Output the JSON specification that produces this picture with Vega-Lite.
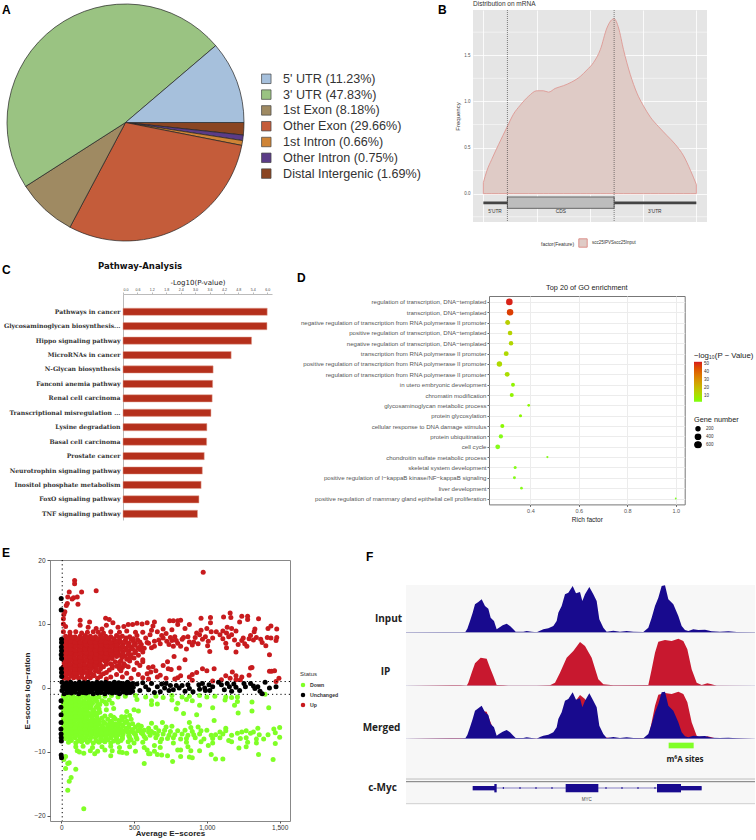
{"$schema":"https://vega.github.io/schema/vega-lite/v6.json","padding":0,"background":"white","bounds":"flush","spacing":0,
"resolve":{"scale":{"color":"independent","size":"independent"},"legend":{"color":"independent","size":"independent"}},
"config":{"font":"Liberation Sans","concat":{"spacing":0},"view":{"stroke":null},"title":{"color":"#111"}},
"datasets":{
"up":[{"a":975,"e":18.1},{"a":240,"e":15.2},{"a":92,"e":16.8},{"a":92,"e":16.3},{"a":55,"e":15},{"a":140,"e":15},{"a":45,"e":14.2},{"a":85,"e":14.1},{"a":110,"e":14.2},{"a":75,"e":13.9},{"a":42,"e":13.2},{"a":115,"e":13.1},{"a":35,"e":12.9},{"a":25,"e":11.9},{"a":18,"e":11.5},{"a":15,"e":10.8},{"a":15,"e":10},{"a":30,"e":9.6},{"a":15,"e":8.8},{"a":130,"e":10.6},{"a":130,"e":9.8},{"a":195,"e":10.3},{"a":185,"e":9.5},{"a":240,"e":9.3},{"a":280,"e":9.2},{"a":305,"e":10.9},{"a":330,"e":10.7},{"a":355,"e":10.2},{"a":310,"e":9.8},{"a":390,"e":9.5},{"a":430,"e":9.6},{"a":460,"e":9.9},{"a":490,"e":9.9},{"a":520,"e":10.1},{"a":555,"e":10},{"a":590,"e":10.2},{"a":640,"e":10.3},{"a":630,"e":9.7},{"a":745,"e":10.5},{"a":770,"e":10.5},{"a":800,"e":10.5},{"a":820,"e":10.6},{"a":880,"e":9.9},{"a":800,"e":9.9},{"a":960,"e":10.9},{"a":1025,"e":11},{"a":1025,"e":10.2},{"a":1000,"e":9.3},{"a":960,"e":9},{"a":1030,"e":8.8},{"a":1115,"e":11.1},{"a":1160,"e":11.7},{"a":1165,"e":11},{"a":1140,"e":9.5},{"a":1170,"e":9.3},{"a":1225,"e":10.3},{"a":1240,"e":11.2},{"a":1280,"e":11.2},{"a":1280,"e":10.7},{"a":1355,"e":10.8},{"a":1330,"e":9.2},{"a":1325,"e":8.8},{"a":1300,"e":8.2},{"a":1420,"e":9.3},{"a":1440,"e":9.7},{"a":1480,"e":9.2},{"a":1440,"e":7.8},{"a":1480,"e":7.9},{"a":1415,"e":7.9},{"a":1475,"e":7.4},{"a":1405,"e":6.6},{"a":1430,"e":5.2},{"a":1430,"e":2.6},{"a":1445,"e":2.6},{"a":1465,"e":2.7},{"a":1475,"e":1},{"a":1495,"e":1.5},{"a":1275,"e":6.5},{"a":1200,"e":5.6},{"a":1135,"e":6.3},{"a":1020,"e":5.7},{"a":1005,"e":6.6},{"a":850,"e":4.4},{"a":775,"e":4.9},{"a":730,"e":4.1},{"a":735,"e":3},{"a":755,"e":2.9},{"a":810,"e":3.1},{"a":700,"e":3.5},{"a":630,"e":3.3},{"a":615,"e":2.5},{"a":1050,"e":3},{"a":1000,"e":2.7},{"a":930,"e":2.4},{"a":900,"e":2.1},{"a":880,"e":1.7},{"a":820,"e":1.9},{"a":800,"e":1.6},{"a":780,"e":1.4},{"a":900,"e":1.2},{"a":1040,"e":1.1},{"a":1130,"e":1.9},{"a":1160,"e":1.5},{"a":1175,"e":2.5},{"a":1200,"e":1.3},{"a":1230,"e":1.3},{"a":1240,"e":1.7},{"a":1290,"e":2},{"a":1300,"e":3.1},{"a":1310,"e":3.2},{"a":1200,"e":1.9},{"a":970,"e":3},{"a":1100,"e":1.3},
{"a":610,"e":8.3},{"a":640,"e":7.3},{"a":660,"e":8.8},{"a":680,"e":6.9},{"a":700,"e":7.8},{"a":720,"e":8.5},{"a":740,"e":6.8},{"a":760,"e":7.4},{"a":780,"e":8},{"a":800,"e":7},{"a":820,"e":6.5},{"a":840,"e":7.9},{"a":860,"e":6.1},{"a":880,"e":7.2},{"a":900,"e":6.7},{"a":920,"e":7.9},{"a":940,"e":6.9},{"a":970,"e":7.6},{"a":990,"e":8},{"a":1010,"e":7.3},{"a":1040,"e":7.8},{"a":1090,"e":8.3},{"a":1110,"e":7.7},{"a":1130,"e":7},{"a":1150,"e":8},{"a":1170,"e":8.3},{"a":1190,"e":7.5},{"a":1215,"e":6.8},{"a":1240,"e":7.4},{"a":1260,"e":6.9},{"a":1290,"e":7.7},{"a":1320,"e":7.5},{"a":1340,"e":7.9},{"a":1370,"e":7.6},{"a":1380,"e":7.1},{"a":1110,"e":8.9},{"a":1065,"e":8.8},{"a":1135,"e":8.6},{"a":1200,"e":8.9},{"a":1250,"e":7.8},{"a":670,"e":7.5},{"a":725,"e":7.3},{"a":750,"e":7.9},{"a":790,"e":7.4},{"a":870,"e":8},{"a":910,"e":7.2},{"a":950,"e":8.3},{"a":830,"e":7.6},{"a":770,"e":6.5},{"a":640,"e":6.5},{"a":600,"e":7},{"a":580,"e":7.8},{"a":560,"e":8.7},{"a":700,"e":9.2},{"a":760,"e":9.1},{"a":850,"e":9.3},{"a":930,"e":8.6},{"a":620,"e":9},{"a":690,"e":8.2},
{"a":20,"e":1.5},{"a":50,"e":1.4},{"a":85,"e":1.6},{"a":120,"e":1.5},{"a":160,"e":1.4},{"a":200,"e":1.6},{"a":250,"e":1.5},{"a":310,"e":1.4},{"a":420,"e":1.7},{"a":480,"e":1.5},{"a":560,"e":1.6},{"a":600,"e":1.4},{"a":660,"e":1.7},{"a":720,"e":1.5},
{"a":15,"e":2.1},{"a":45,"e":2.2},{"a":75,"e":2},{"a":110,"e":2.1},{"a":145,"e":2.2},{"a":185,"e":2.1},{"a":225,"e":2},{"a":290,"e":2.2},{"a":380,"e":2.1},{"a":450,"e":2.3},{"a":530,"e":2.1},{"a":590,"e":2.2},{"a":680,"e":2},
{"a":20,"e":2.7},{"a":50,"e":2.8},{"a":85,"e":2.6},{"a":115,"e":2.7},{"a":150,"e":2.8},{"a":190,"e":2.7},{"a":235,"e":2.6},{"a":330,"e":2.8},{"a":410,"e":2.7},{"a":500,"e":2.9},{"a":650,"e":2.7},
{"a":15,"e":3.3},{"a":45,"e":3.4},{"a":80,"e":3.2},{"a":110,"e":3.3},{"a":145,"e":3.4},{"a":180,"e":3.3},{"a":215,"e":3.2},{"a":250,"e":3.5},{"a":290,"e":3.3},{"a":380,"e":3.4},{"a":420,"e":3.2},{"a":460,"e":3.3},{"a":540,"e":3.5},{"a":600,"e":3.2},
{"a":20,"e":3.9},{"a":50,"e":4},{"a":85,"e":3.8},{"a":120,"e":3.9},{"a":155,"e":4},{"a":190,"e":3.9},{"a":225,"e":3.8},{"a":260,"e":4},{"a":310,"e":3.9},{"a":340,"e":3.8},{"a":400,"e":4},{"a":430,"e":3.8},{"a":520,"e":3.9},{"a":560,"e":4.1},
{"a":15,"e":4.5},{"a":45,"e":4.6},{"a":80,"e":4.4},{"a":110,"e":4.5},{"a":145,"e":4.6},{"a":180,"e":4.5},{"a":215,"e":4.4},{"a":250,"e":4.6},{"a":285,"e":4.5},{"a":320,"e":4.4},{"a":350,"e":4.6},{"a":450,"e":4.5},{"a":500,"e":4.7},{"a":560,"e":4.4},
{"a":20,"e":5.1},{"a":50,"e":5.2},{"a":85,"e":5},{"a":120,"e":5.1},{"a":155,"e":5.2},{"a":190,"e":5.1},{"a":225,"e":5},{"a":260,"e":5.2},{"a":295,"e":5.1},{"a":330,"e":5},{"a":365,"e":5.2},{"a":400,"e":5.1},{"a":440,"e":5},{"a":480,"e":5.2},{"a":530,"e":5.1},
{"a":15,"e":5.7},{"a":45,"e":5.8},{"a":80,"e":5.6},{"a":110,"e":5.7},{"a":145,"e":5.8},{"a":180,"e":5.7},{"a":215,"e":5.6},{"a":250,"e":5.8},{"a":285,"e":5.7},{"a":320,"e":5.6},{"a":355,"e":5.8},{"a":390,"e":5.7},{"a":425,"e":5.6},{"a":465,"e":5.8},{"a":510,"e":5.7},{"a":560,"e":5.6},
{"a":20,"e":6.3},{"a":50,"e":6.4},{"a":85,"e":6.2},{"a":120,"e":6.3},{"a":155,"e":6.4},{"a":190,"e":6.3},{"a":225,"e":6.2},{"a":260,"e":6.4},{"a":295,"e":6.3},{"a":330,"e":6.2},{"a":365,"e":6.4},{"a":400,"e":6.3},{"a":440,"e":6.2},{"a":480,"e":6.4},{"a":525,"e":6.3},{"a":570,"e":6.2},{"a":620,"e":6.3},
{"a":15,"e":6.9},{"a":45,"e":7},{"a":80,"e":6.8},{"a":110,"e":6.9},{"a":145,"e":7},{"a":180,"e":6.9},{"a":215,"e":6.8},{"a":250,"e":7},{"a":285,"e":6.9},{"a":320,"e":6.8},{"a":355,"e":7},{"a":390,"e":6.9},{"a":425,"e":6.8},{"a":465,"e":7},{"a":510,"e":6.9},{"a":550,"e":6.8},{"a":590,"e":7.1},
{"a":20,"e":7.5},{"a":50,"e":7.6},{"a":85,"e":7.4},{"a":120,"e":7.5},{"a":155,"e":7.6},{"a":190,"e":7.5},{"a":225,"e":7.4},{"a":260,"e":7.6},{"a":295,"e":7.5},{"a":330,"e":7.4},{"a":365,"e":7.6},{"a":400,"e":7.5},{"a":440,"e":7.4},{"a":480,"e":7.6},{"a":525,"e":7.5},
{"a":30,"e":8.1},{"a":60,"e":8.2},{"a":95,"e":8},{"a":130,"e":8.1},{"a":165,"e":8.2},{"a":200,"e":8.1},{"a":235,"e":8},{"a":270,"e":8.2},{"a":305,"e":8.1},{"a":340,"e":8},{"a":380,"e":8.2},{"a":420,"e":8.1},{"a":470,"e":8},{"a":520,"e":8.2},
{"a":60,"e":8.7},{"a":100,"e":8.8},{"a":140,"e":8.6},{"a":180,"e":8.7},{"a":220,"e":8.8},{"a":255,"e":8.7},{"a":290,"e":8.6},{"a":340,"e":8.8},{"a":400,"e":8.7},{"a":450,"e":8.9},{"a":510,"e":8.7},
{"a":30,"e":1.8},{"a":65,"e":1.9},{"a":100,"e":1.8},{"a":140,"e":1.7},{"a":180,"e":1.8},{"a":220,"e":1.9},{"a":270,"e":1.8},{"a":340,"e":1.7},
{"a":30,"e":2.4},{"a":60,"e":2.5},{"a":95,"e":2.3},{"a":130,"e":2.4},{"a":170,"e":2.4},{"a":205,"e":2.3},{"a":260,"e":2.5},{"a":310,"e":2.4},
{"a":30,"e":3},{"a":65,"e":3.1},{"a":95,"e":2.9},{"a":130,"e":3},{"a":165,"e":3.1},{"a":205,"e":3},{"a":240,"e":2.9},{"a":270,"e":3},{"a":350,"e":3.1},{"a":400,"e":3},
{"a":30,"e":3.6},{"a":60,"e":3.7},{"a":95,"e":3.5},{"a":130,"e":3.6},{"a":160,"e":3.7},{"a":200,"e":3.6},{"a":235,"e":3.5},{"a":270,"e":3.6},{"a":310,"e":3.7},{"a":350,"e":3.5},{"a":400,"e":3.6},{"a":440,"e":3.5},
{"a":30,"e":4.2},{"a":65,"e":4.3},{"a":100,"e":4.1},{"a":130,"e":4.2},{"a":170,"e":4.3},{"a":205,"e":4.2},{"a":240,"e":4.1},{"a":270,"e":4.3},{"a":300,"e":4.2},{"a":370,"e":4.1},{"a":410,"e":4.3},{"a":470,"e":4.2},
{"a":30,"e":4.8},{"a":60,"e":4.9},{"a":95,"e":4.7},{"a":130,"e":4.8},{"a":165,"e":4.9},{"a":200,"e":4.8},{"a":235,"e":4.7},{"a":270,"e":4.9},{"a":305,"e":4.8},{"a":340,"e":4.7},{"a":380,"e":4.9},{"a":420,"e":4.8},{"a":470,"e":4.7},
{"a":30,"e":5.4},{"a":65,"e":5.5},{"a":100,"e":5.3},{"a":130,"e":5.4},{"a":170,"e":5.5},{"a":205,"e":5.4},{"a":240,"e":5.3},{"a":275,"e":5.5},{"a":310,"e":5.4},{"a":345,"e":5.3},{"a":380,"e":5.5},{"a":420,"e":5.4},{"a":460,"e":5.3},{"a":505,"e":5.5},
{"a":30,"e":6},{"a":65,"e":6.1},{"a":95,"e":5.9},{"a":130,"e":6},{"a":165,"e":6.1},{"a":200,"e":6},{"a":235,"e":5.9},{"a":270,"e":6.1},{"a":305,"e":6},{"a":340,"e":5.9},{"a":375,"e":6.1},{"a":410,"e":6},{"a":450,"e":5.9},{"a":490,"e":6.1},{"a":540,"e":6},
{"a":30,"e":6.6},{"a":65,"e":6.7},{"a":100,"e":6.5},{"a":130,"e":6.6},{"a":170,"e":6.7},{"a":205,"e":6.6},{"a":240,"e":6.5},{"a":275,"e":6.7},{"a":310,"e":6.6},{"a":345,"e":6.5},{"a":380,"e":6.7},{"a":420,"e":6.6},{"a":460,"e":6.5},{"a":500,"e":6.7},{"a":545,"e":6.6},
{"a":30,"e":7.2},{"a":65,"e":7.3},{"a":95,"e":7.1},{"a":130,"e":7.2},{"a":165,"e":7.3},{"a":200,"e":7.2},{"a":235,"e":7.1},{"a":270,"e":7.3},{"a":305,"e":7.2},{"a":340,"e":7.1},{"a":375,"e":7.3},{"a":410,"e":7.2},{"a":450,"e":7.1},{"a":495,"e":7.3},{"a":540,"e":7.2},
{"a":40,"e":7.8},{"a":75,"e":7.9},{"a":110,"e":7.7},{"a":145,"e":7.8},{"a":180,"e":7.9},{"a":215,"e":7.8},{"a":250,"e":7.7},{"a":285,"e":7.9},{"a":320,"e":7.8},{"a":360,"e":7.7},{"a":400,"e":7.9},{"a":445,"e":7.8},{"a":495,"e":7.7}],
"down":[{"a":155,"e":-18.9},{"a":45,"e":-16},{"a":55,"e":-14.6},{"a":68,"e":-14},{"a":100,"e":-12.7},{"a":30,"e":-12.6},{"a":18,"e":-11.2},{"a":55,"e":-11.7},{"a":30,"e":-10.7},{"a":45,"e":-11.8},{"a":570,"e":-11.8},{"a":765,"e":-11.5},{"a":1455,"e":-11.2},{"a":1060,"e":-11.1},{"a":1110,"e":-11.1},{"a":880,"e":-10.8},{"a":900,"e":-10.9},{"a":1355,"e":-10.4},{"a":820,"e":-10.7},{"a":690,"e":-10.5},{"a":730,"e":-10.6},{"a":600,"e":-10.3},
{"a":15,"e":-1.3},{"a":45,"e":-1.2},{"a":80,"e":-1.3},{"a":115,"e":-1.4},{"a":150,"e":-1.2},{"a":185,"e":-1.3},{"a":220,"e":-1.2},{"a":260,"e":-1.4},{"a":300,"e":-1.3},{"a":345,"e":-1.2},{"a":390,"e":-1.4},{"a":440,"e":-1.3},{"a":510,"e":-1.2},{"a":580,"e":-1.4},{"a":650,"e":-1.3},{"a":700,"e":-1.5},{"a":760,"e":-1.2},{"a":830,"e":-1.4},{"a":880,"e":-1.3},{"a":950,"e":-1.2},{"a":1000,"e":-1.4},{"a":1055,"e":-1.3},{"a":1130,"e":-1.4},{"a":1170,"e":-1.5},{"a":1210,"e":-1.4},{"a":1400,"e":-1},
{"a":20,"e":-1.9},{"a":50,"e":-2},{"a":85,"e":-1.8},{"a":120,"e":-1.9},{"a":155,"e":-2},{"a":190,"e":-1.9},{"a":230,"e":-1.8},{"a":280,"e":-2},{"a":330,"e":-1.9},{"a":520,"e":-1.8},{"a":620,"e":-2},{"a":760,"e":-1.9},{"a":860,"e":-1.8},{"a":900,"e":-2},{"a":1125,"e":-1.9},{"a":1210,"e":-2.1},
{"a":15,"e":-2.5},{"a":45,"e":-2.6},{"a":80,"e":-2.4},{"a":110,"e":-2.5},{"a":145,"e":-2.6},{"a":180,"e":-2.5},{"a":215,"e":-2.4},{"a":265,"e":-2.6},{"a":310,"e":-2.5},{"a":350,"e":-2.4},{"a":620,"e":-2.6},{"a":660,"e":-2.5},{"a":800,"e":-2.4},{"a":950,"e":-2.7},{"a":1190,"e":-2.7},
{"a":20,"e":-3.1},{"a":50,"e":-3.2},{"a":85,"e":-3},{"a":120,"e":-3.1},{"a":155,"e":-3.2},{"a":190,"e":-3.1},{"a":240,"e":-3},{"a":360,"e":-3.2},{"a":500,"e":-3.4},{"a":790,"e":-3.3},{"a":1040,"e":-3.1},{"a":1310,"e":-2.2},{"a":1425,"e":-3.1},
{"a":15,"e":-3.7},{"a":45,"e":-3.8},{"a":80,"e":-3.6},{"a":110,"e":-3.7},{"a":145,"e":-3.8},{"a":180,"e":-3.7},{"a":225,"e":-3.6},{"a":265,"e":-3.8},{"a":450,"e":-3.7},{"a":530,"e":-3.6},{"a":840,"e":-4},{"a":1310,"e":-3.6},{"a":1215,"e":-3.9},
{"a":20,"e":-4.3},{"a":50,"e":-4.4},{"a":85,"e":-4.2},{"a":120,"e":-4.3},{"a":155,"e":-4.4},{"a":190,"e":-4.3},{"a":230,"e":-4.2},{"a":300,"e":-4.4},{"a":340,"e":-4.3},{"a":415,"e":-4.5},{"a":470,"e":-4.3},{"a":930,"e":-4.2},
{"a":15,"e":-4.9},{"a":45,"e":-5},{"a":80,"e":-4.8},{"a":110,"e":-4.9},{"a":145,"e":-5},{"a":180,"e":-4.9},{"a":215,"e":-4.8},{"a":260,"e":-5},{"a":320,"e":-4.9},{"a":370,"e":-4.8},{"a":420,"e":-5},{"a":480,"e":-4.9},{"a":1050,"e":-5.1},
{"a":20,"e":-5.5},{"a":50,"e":-5.6},{"a":85,"e":-5.4},{"a":120,"e":-5.5},{"a":155,"e":-5.6},{"a":190,"e":-5.5},{"a":225,"e":-5.4},{"a":260,"e":-5.6},{"a":300,"e":-5.5},{"a":335,"e":-5.4},{"a":370,"e":-5.6},{"a":400,"e":-5.5},{"a":440,"e":-5.4},{"a":490,"e":-5.6},{"a":620,"e":-5.5},{"a":695,"e":-5.4},{"a":880,"e":-5.4},
{"a":15,"e":-6.1},{"a":45,"e":-6.2},{"a":80,"e":-6},{"a":110,"e":-6.1},{"a":145,"e":-6.2},{"a":180,"e":-6.1},{"a":215,"e":-6},{"a":250,"e":-6.2},{"a":285,"e":-6.1},{"a":320,"e":-6},{"a":355,"e":-6.2},{"a":390,"e":-6.1},{"a":425,"e":-6},{"a":465,"e":-6.2},{"a":510,"e":-6.1},{"a":550,"e":-6},{"a":650,"e":-6.2},{"a":720,"e":-6.1},{"a":760,"e":-6},{"a":890,"e":-6.2},{"a":940,"e":-6.1},{"a":1130,"e":-6.3},{"a":1350,"e":-6.3},{"a":1460,"e":-6.4},{"a":1500,"e":-6.2},
{"a":20,"e":-6.7},{"a":50,"e":-6.8},{"a":85,"e":-6.6},{"a":120,"e":-6.7},{"a":155,"e":-6.8},{"a":190,"e":-6.7},{"a":225,"e":-6.6},{"a":260,"e":-6.8},{"a":295,"e":-6.7},{"a":330,"e":-6.6},{"a":365,"e":-6.8},{"a":400,"e":-6.7},{"a":440,"e":-6.6},{"a":480,"e":-6.8},{"a":525,"e":-6.7},{"a":570,"e":-6.6},{"a":620,"e":-6.8},{"a":670,"e":-6.7},{"a":710,"e":-6.6},{"a":750,"e":-6.8},{"a":800,"e":-6.7},{"a":850,"e":-6.6},{"a":900,"e":-6.8},{"a":960,"e":-6.7},{"a":1000,"e":-6.6},{"a":1090,"e":-6.9},{"a":1130,"e":-6.7},{"a":1270,"e":-6.7},{"a":1320,"e":-6.9},{"a":1470,"e":-7},
{"a":15,"e":-7.3},{"a":45,"e":-7.4},{"a":80,"e":-7.2},{"a":110,"e":-7.3},{"a":145,"e":-7.4},{"a":180,"e":-7.3},{"a":215,"e":-7.2},{"a":250,"e":-7.4},{"a":285,"e":-7.3},{"a":320,"e":-7.2},{"a":355,"e":-7.4},{"a":390,"e":-7.3},{"a":425,"e":-7.2},{"a":465,"e":-7.4},{"a":510,"e":-7.3},{"a":560,"e":-7.2},{"a":610,"e":-7.4},{"a":660,"e":-7.3},{"a":700,"e":-7.2},{"a":740,"e":-7.4},{"a":780,"e":-7.3},{"a":830,"e":-7.2},{"a":870,"e":-7.4},{"a":910,"e":-7.3},{"a":950,"e":-7.2},{"a":1030,"e":-7.4},{"a":1060,"e":-7.3},{"a":1110,"e":-7.2},{"a":1170,"e":-7.4},{"a":1210,"e":-7.1},{"a":1240,"e":-6.9},{"a":1300,"e":-7.1},{"a":1360,"e":-7.3},{"a":1420,"e":-7.3},
{"a":30,"e":-7.9},{"a":60,"e":-8},{"a":95,"e":-7.8},{"a":130,"e":-7.9},{"a":165,"e":-8},{"a":200,"e":-7.9},{"a":235,"e":-7.8},{"a":270,"e":-8},{"a":305,"e":-7.9},{"a":340,"e":-7.8},{"a":380,"e":-8},{"a":420,"e":-7.9},{"a":470,"e":-7.8},{"a":520,"e":-8},{"a":580,"e":-7.9},{"a":650,"e":-7.8},{"a":690,"e":-8},{"a":730,"e":-7.9},{"a":770,"e":-7.8},{"a":820,"e":-8},{"a":860,"e":-7.9},{"a":920,"e":-7.8},{"a":980,"e":-8},{"a":1040,"e":-7.9},{"a":1090,"e":-7.8},{"a":1150,"e":-8.2},{"a":1230,"e":-7.9},{"a":1270,"e":-7.8},{"a":1340,"e":-8},{"a":1390,"e":-8},{"a":1500,"e":-7.7},
{"a":50,"e":-8.5},{"a":100,"e":-8.6},{"a":140,"e":-8.4},{"a":180,"e":-8.5},{"a":220,"e":-8.6},{"a":260,"e":-8.5},{"a":300,"e":-8.4},{"a":340,"e":-8.6},{"a":390,"e":-8.5},{"a":460,"e":-8.4},{"a":500,"e":-8.6},{"a":560,"e":-8.5},{"a":680,"e":-8.4},{"a":770,"e":-8.6},{"a":860,"e":-8.5},{"a":960,"e":-8.4},{"a":1040,"e":-8.6},{"a":1170,"e":-8.4},{"a":1280,"e":-8.5},{"a":1340,"e":-8.6},{"a":1470,"e":-8.7},
{"a":100,"e":-9.2},{"a":150,"e":-9.1},{"a":215,"e":-9.3},{"a":280,"e":-9.2},{"a":340,"e":-9.1},{"a":400,"e":-9.3},{"a":470,"e":-9.2},{"a":570,"e":-9.3},{"a":640,"e":-9},{"a":680,"e":-9.3},{"a":870,"e":-9.2},{"a":1010,"e":-9},{"a":1220,"e":-9.4},{"a":1270,"e":-9.2},
{"a":110,"e":-9.8},{"a":125,"e":-10},{"a":200,"e":-9.8},{"a":250,"e":-9.9},{"a":300,"e":-9.7},{"a":350,"e":-9.8},{"a":400,"e":-10},{"a":510,"e":-9.9},{"a":590,"e":-9.7},{"a":640,"e":-9.9},{"a":820,"e":-9.7},{"a":890,"e":-9.8},{"a":950,"e":-9.8},
{"a":155,"e":-10.2},{"a":230,"e":-10.3},{"a":340,"e":-10.6},{"a":420,"e":-10.1},{"a":450,"e":-10.2},{"a":610,"e":-10.3},{"a":660,"e":-10.4},{"a":800,"e":-9.7},{"a":1030,"e":-10.4},
{"a":30,"e":-1.6},{"a":65,"e":-1.7},{"a":100,"e":-1.6},{"a":135,"e":-1.5},{"a":170,"e":-1.6},{"a":205,"e":-1.7},{"a":240,"e":-1.6},
{"a":30,"e":-2.2},{"a":65,"e":-2.3},{"a":100,"e":-2.1},{"a":130,"e":-2.2},{"a":165,"e":-2.3},{"a":200,"e":-2.2},{"a":245,"e":-2.1},{"a":300,"e":-2.2},
{"a":30,"e":-2.8},{"a":65,"e":-2.9},{"a":100,"e":-2.7},{"a":130,"e":-2.8},{"a":170,"e":-2.9},{"a":205,"e":-2.8},{"a":250,"e":-2.7},
{"a":30,"e":-3.4},{"a":65,"e":-3.5},{"a":100,"e":-3.3},{"a":135,"e":-3.4},{"a":170,"e":-3.5},{"a":215,"e":-3.4},{"a":260,"e":-3.3},{"a":310,"e":-3.4},
{"a":30,"e":-4},{"a":65,"e":-4.1},{"a":95,"e":-3.9},{"a":130,"e":-4},{"a":165,"e":-4.1},{"a":205,"e":-4},{"a":250,"e":-3.9},
{"a":30,"e":-4.6},{"a":65,"e":-4.7},{"a":100,"e":-4.5},{"a":135,"e":-4.6},{"a":170,"e":-4.7},{"a":210,"e":-4.6},{"a":245,"e":-4.5},{"a":280,"e":-4.7},{"a":360,"e":-4.6},{"a":440,"e":-4.5},
{"a":30,"e":-5.2},{"a":65,"e":-5.3},{"a":95,"e":-5.1},{"a":130,"e":-5.2},{"a":165,"e":-5.3},{"a":200,"e":-5.2},{"a":240,"e":-5.1},{"a":290,"e":-5.3},{"a":345,"e":-5.2},{"a":395,"e":-5.1},{"a":450,"e":-5.2},
{"a":30,"e":-5.8},{"a":65,"e":-5.9},{"a":100,"e":-5.7},{"a":135,"e":-5.8},{"a":170,"e":-5.9},{"a":205,"e":-5.8},{"a":240,"e":-5.7},{"a":280,"e":-5.9},{"a":320,"e":-5.8},{"a":350,"e":-5.7},{"a":385,"e":-5.9},{"a":420,"e":-5.8},{"a":465,"e":-5.7},{"a":530,"e":-5.8},
{"a":30,"e":-6.4},{"a":65,"e":-6.5},{"a":95,"e":-6.3},{"a":130,"e":-6.4},{"a":165,"e":-6.5},{"a":200,"e":-6.4},{"a":235,"e":-6.3},{"a":270,"e":-6.5},{"a":305,"e":-6.4},{"a":340,"e":-6.3},{"a":375,"e":-6.5},{"a":410,"e":-6.4},{"a":450,"e":-6.3},{"a":490,"e":-6.5},{"a":540,"e":-6.4},{"a":600,"e":-6.3},
{"a":30,"e":-7},{"a":65,"e":-7.1},{"a":100,"e":-6.9},{"a":135,"e":-7},{"a":170,"e":-7.1},{"a":205,"e":-7},{"a":240,"e":-6.9},{"a":275,"e":-7.1},{"a":310,"e":-7},{"a":345,"e":-6.9},{"a":380,"e":-7.1},{"a":415,"e":-7},{"a":455,"e":-6.9},{"a":500,"e":-7.1},{"a":550,"e":-7},{"a":600,"e":-6.9},{"a":640,"e":-7.1},
{"a":30,"e":-7.6},{"a":65,"e":-7.7},{"a":100,"e":-7.5},{"a":135,"e":-7.6},{"a":170,"e":-7.7},{"a":205,"e":-7.6},{"a":240,"e":-7.5},{"a":275,"e":-7.7},{"a":310,"e":-7.6},{"a":345,"e":-7.5},{"a":380,"e":-7.7},{"a":420,"e":-7.6},{"a":465,"e":-7.5},{"a":515,"e":-7.7},{"a":570,"e":-7.6},
{"a":70,"e":-8.2},{"a":115,"e":-8.3},{"a":155,"e":-8.1},{"a":195,"e":-8.2},{"a":240,"e":-8.3},{"a":280,"e":-8.2},{"a":320,"e":-8.1},{"a":360,"e":-8.3},{"a":410,"e":-8.2},{"a":480,"e":-8.1}],
"flat":[{"a":0,"e":14},{"a":0,"e":12.2},{"a":2,"e":7.6},{"a":2,"e":7.1},{"a":1,"e":6.4},{"a":2,"e":5.8},{"a":0,"e":5.2},{"a":2,"e":4.6},{"a":1,"e":3},{"a":2,"e":2.4},{"a":3,"e":1.8},{"a":-1,"e":-2},{"a":-2,"e":-3},{"a":-1,"e":-4.2},{"a":-1,"e":-5.4},{"a":-2,"e":-6.4},{"a":-1,"e":-7.2},{"a":0,"e":-7.8},{"a":1,"e":-8.3},{"a":0,"e":-10.5},{"a":2,"e":-10.9},
{"a":5,"e":0.9},{"a":35,"e":0.8},{"a":65,"e":0.9},{"a":95,"e":0.7},{"a":125,"e":0.9},{"a":155,"e":0.8},{"a":185,"e":0.9},{"a":215,"e":0.7},{"a":245,"e":0.9},{"a":275,"e":0.8},{"a":305,"e":0.9},{"a":335,"e":0.7},{"a":365,"e":0.9},{"a":395,"e":0.8},{"a":425,"e":0.7},{"a":455,"e":0.9},{"a":490,"e":0.7},
{"a":10,"e":0.2},{"a":40,"e":0.3},{"a":70,"e":0.1},{"a":100,"e":0.2},{"a":130,"e":0.3},{"a":160,"e":0.1},{"a":190,"e":0.2},{"a":220,"e":0.3},{"a":250,"e":0.1},{"a":280,"e":0.2},{"a":310,"e":0.3},{"a":340,"e":0.1},{"a":370,"e":0.2},{"a":400,"e":0.3},{"a":430,"e":0.1},{"a":460,"e":0.2},{"a":495,"e":0.1},
{"a":5,"e":-0.4},{"a":35,"e":-0.3},{"a":65,"e":-0.5},{"a":95,"e":-0.4},{"a":125,"e":-0.3},{"a":155,"e":-0.5},{"a":185,"e":-0.4},{"a":215,"e":-0.3},{"a":245,"e":-0.5},{"a":275,"e":-0.4},{"a":305,"e":-0.3},{"a":335,"e":-0.5},{"a":365,"e":-0.4},{"a":395,"e":-0.3},{"a":425,"e":-0.5},{"a":460,"e":-0.4},{"a":490,"e":-0.5},
{"a":20,"e":-0.9},{"a":70,"e":-0.8},{"a":120,"e":-0.9},{"a":170,"e":-0.8},{"a":220,"e":-0.9},{"a":250,"e":-0.8},{"a":300,"e":-0.9},{"a":350,"e":-0.8},{"a":400,"e":-0.9},{"a":450,"e":-0.8},
{"a":20,"e":0.55},{"a":50,"e":0.6},{"a":80,"e":0.5},{"a":110,"e":0.55},{"a":140,"e":0.6},{"a":170,"e":0.5},{"a":200,"e":0.55},{"a":230,"e":0.6},{"a":260,"e":0.5},{"a":290,"e":0.55},{"a":320,"e":0.6},{"a":350,"e":0.5},{"a":380,"e":0.55},{"a":410,"e":0.6},{"a":445,"e":0.5},{"a":475,"e":0.55},
{"a":25,"e":-0.1},{"a":55,"e":-0.05},{"a":85,"e":-0.15},{"a":115,"e":-0.1},{"a":145,"e":-0.05},{"a":175,"e":-0.15},{"a":205,"e":-0.1},{"a":235,"e":-0.05},{"a":265,"e":-0.15},{"a":295,"e":-0.1},{"a":325,"e":-0.05},{"a":355,"e":-0.15},{"a":385,"e":-0.1},{"a":415,"e":-0.05},{"a":445,"e":-0.15},{"a":475,"e":-0.1},
{"a":45,"e":-0.7},{"a":95,"e":-0.65},{"a":145,"e":-0.7},{"a":195,"e":-0.65},{"a":275,"e":-0.7},{"a":325,"e":-0.65},{"a":375,"e":-0.7},{"a":425,"e":-0.65},{"a":475,"e":-0.7},
{"a":520,"e":0.6},{"a":540,"e":-0.4},{"a":560,"e":0.8},{"a":580,"e":0.2},{"a":600,"e":-0.3},{"a":620,"e":0.7},{"a":640,"e":-0.7},{"a":660,"e":0.2},{"a":680,"e":-0.6},{"a":690,"e":0.6},{"a":710,"e":0},{"a":720,"e":0.7},{"a":740,"e":-0.4},{"a":750,"e":0.4},{"a":770,"e":-0.3},{"a":790,"e":0.4},{"a":810,"e":0},{"a":830,"e":0.4},{"a":850,"e":-0.5},{"a":870,"e":0.5},{"a":880,"e":-0.1},{"a":905,"e":-0.6},{"a":945,"e":0.5},{"a":950,"e":-0.2},{"a":970,"e":0.7},{"a":985,"e":0},{"a":990,"e":-0.4},{"a":1015,"e":0.5},{"a":1020,"e":-0.4},{"a":1040,"e":0.2},{"a":1080,"e":0.9},{"a":1100,"e":0.5},{"a":1120,"e":-0.3},{"a":1140,"e":0.7},{"a":1155,"e":0.2},{"a":1170,"e":-0.5},{"a":1185,"e":0.6},{"a":1200,"e":0.1},{"a":1225,"e":-0.4},{"a":1255,"e":0.7},{"a":1265,"e":0.2},{"a":1300,"e":0.7},{"a":1320,"e":0.3},{"a":1330,"e":-0.1},{"a":1350,"e":0.2},{"a":1365,"e":-0.5},{"a":1380,"e":-0.9},{"a":1400,"e":0.9},{"a":1430,"e":0},{"a":1475,"e":0.2}],
"inputTrack":[{"pos":168,"cov":0},{"pos":280,"cov":1},{"pos":330,"cov":1},{"pos":346,"cov":2},{"pos":352,"cov":12},{"pos":360,"cov":35},{"pos":368,"cov":60},{"pos":375,"cov":85},{"pos":385,"cov":92},{"pos":395,"cov":100},{"pos":405,"cov":80},{"pos":415,"cov":72},{"pos":422,"cov":45},{"pos":432,"cov":35},{"pos":440,"cov":10},{"pos":447,"cov":15},{"pos":458,"cov":22},{"pos":470,"cov":27},{"pos":480,"cov":20},{"pos":490,"cov":10},{"pos":497,"cov":3},{"pos":520,"cov":3},{"pos":530,"cov":5},{"pos":545,"cov":3},{"pos":560,"cov":1},{"pos":570,"cov":6},{"pos":580,"cov":10},{"pos":595,"cov":13},{"pos":610,"cov":20},{"pos":620,"cov":35},{"pos":625,"cov":60},{"pos":635,"cov":80},{"pos":645,"cov":115},{"pos":655,"cov":120},{"pos":668,"cov":140},{"pos":678,"cov":118},{"pos":690,"cov":122},{"pos":697,"cov":95},{"pos":705,"cov":115},{"pos":718,"cov":137},{"pos":730,"cov":115},{"pos":740,"cov":95},{"pos":748,"cov":40},{"pos":760,"cov":15},{"pos":770,"cov":3},{"pos":790,"cov":6},{"pos":810,"cov":3},{"pos":830,"cov":5},{"pos":850,"cov":3},{"pos":880,"cov":2},{"pos":895,"cov":15},{"pos":905,"cov":45},{"pos":915,"cov":80},{"pos":925,"cov":105},{"pos":935,"cov":140},{"pos":945,"cov":142},{"pos":955,"cov":100},{"pos":970,"cov":85},{"pos":985,"cov":50},{"pos":995,"cov":20},{"pos":1005,"cov":8},{"pos":1015,"cov":5},{"pos":1030,"cov":10},{"pos":1045,"cov":8},{"pos":1065,"cov":9},{"pos":1085,"cov":4},{"pos":1110,"cov":3},{"pos":1135,"cov":4},{"pos":1160,"cov":2},{"pos":1215,"cov":0}],
"ipTrack":[{"pos":168,"cov":0},{"pos":305,"cov":2},{"pos":330,"cov":2},{"pos":350,"cov":1},{"pos":355,"cov":10},{"pos":365,"cov":40},{"pos":375,"cov":68},{"pos":392,"cov":85},{"pos":410,"cov":82},{"pos":420,"cov":55},{"pos":430,"cov":30},{"pos":440,"cov":3},{"pos":460,"cov":2},{"pos":475,"cov":1},{"pos":560,"cov":1},{"pos":600,"cov":2},{"pos":615,"cov":10},{"pos":630,"cov":40},{"pos":650,"cov":85},{"pos":670,"cov":105},{"pos":690,"cov":132},{"pos":705,"cov":120},{"pos":725,"cov":85},{"pos":745,"cov":20},{"pos":760,"cov":5},{"pos":790,"cov":2},{"pos":895,"cov":3},{"pos":905,"cov":50},{"pos":915,"cov":100},{"pos":925,"cov":133},{"pos":945,"cov":138},{"pos":965,"cov":135},{"pos":985,"cov":142},{"pos":1000,"cov":135},{"pos":1012,"cov":110},{"pos":1025,"cov":50},{"pos":1040,"cov":10},{"pos":1055,"cov":3},{"pos":1072,"cov":8},{"pos":1085,"cov":5},{"pos":1100,"cov":1},{"pos":1215,"cov":0}]
},
"hconcat":[
{"vconcat":[
 {"width":1,"height":4,"data":{"values":[]},"mark":"rect","encoding":{}},
 {"hconcat":[
  {"width":7,"height":1,"title":{"text":"A","anchor":"start","fontSize":12,"fontWeight":"bold","offset":0,"dx":2,"dy":17.5,"baseline":"middle","color":"black"},"data":{"values":[]},"mark":"rect","encoding":{}},
  {"width":237,"height":237,
   "data":{"values":[{"region":"Distal Intergenic (1.69%)","share":1.69,"rank":1},{"region":"Other Intron (0.75%)","share":0.75,"rank":2},{"region":"1st Intron (0.66%)","share":0.66,"rank":3},{"region":"Other Exon (29.66%)","share":29.66,"rank":4},{"region":"1st Exon (8.18%)","share":8.18,"rank":5},{"region":"3' UTR (47.83%)","share":47.83,"rank":6},{"region":"5' UTR (11.23%)","share":11.23,"rank":7}]},
   "mark":{"type":"arc","outerRadius":118.5,"stroke":"#222","strokeWidth":0.7},
   "encoding":{
    "theta":{"field":"share","type":"quantitative","stack":true,"scale":{"range":[1.5708,7.854]}},
    "order":{"field":"rank","type":"quantitative"},
    "color":{"field":"region","type":"nominal","scale":{"domain":["5' UTR (11.23%)","3' UTR (47.83%)","1st Exon (8.18%)","Other Exon (29.66%)","1st Intron (0.66%)","Other Intron (0.75%)","Distal Intergenic (1.69%)"],"range":["#a6c0dc","#9ac382","#9f8a62","#c45c3a","#cf8436","#5b3c87","#8a4522"]},
     "legend":{"title":null,"orient":"none","legendX":260,"legendY":72.5,"symbolType":"square","symbolSize":90,"symbolStrokeColor":"#444","symbolStrokeWidth":0.7,"labelFontSize":12.6,"labelColor":"#333","rowPadding":2.8,"labelOffset":10.5,"labelLimit":300}}}}
 ],"spacing":0,"bounds":"flush"}
],"spacing":0,"bounds":"flush"},
{"vconcat":[
 {"width":1,"height":294,"data":{"values":[]},"mark":"rect","encoding":{}},
 {"hconcat":[
  {"width":123,"height":1,"title":{"text":"C","anchor":"start","fontSize":12,"fontWeight":"bold","offset":0,"dx":2,"dy":-12.5,"baseline":"middle","color":"black"},"data":{"values":[]},"mark":"rect","encoding":{}},
  {"width":149,"height":226,
   "title":{"text":"Pathway-Analysis","anchor":"start","frame":"group","dx":-25,"offset":8,"fontSize":8.5,"fontWeight":"bold","font":"DejaVu Sans"},
   "data":{"values":[{"p":"Pathways in cancer","v":6.0},{"p":"Glycosaminoglycan biosynthesis...","v":5.99},{"p":"Hippo signaling pathway","v":5.35},{"p":"MicroRNAs in cancer","v":4.5},{"p":"N-Glycan biosynthesis","v":3.75},{"p":"Fanconi anemia pathway","v":3.73},{"p":"Renal cell carcinoma","v":3.71},{"p":"Transcriptional misregulation ...","v":3.66},{"p":"Lysine degradation","v":3.49},{"p":"Basal cell carcinoma","v":3.48},{"p":"Prostate cancer","v":3.38},{"p":"Neurotrophin signaling pathway","v":3.3},{"p":"Inositol phosphate metabolism","v":3.25},{"p":"FoxO signaling pathway","v":3.16},{"p":"TNF signaling pathway","v":3.1}]},
   "mark":{"type":"bar","color":"#b5301c","stroke":"#e3a594","strokeWidth":0.5},
   "encoding":{
    "x":{"field":"v","type":"quantitative","scale":{"domain":[0,6.2],"nice":false},"axis":{"orient":"top","title":"-Log10(P-value)","titleFontSize":7,"titleFontWeight":"normal","titleFont":"DejaVu Sans","titlePadding":2,"titleColor":"#222","values":[0,0.6,1.2,1.8,2.4,3,3.6,4.2,4.8,5.4,6],"labelFontSize":3.6,"labelColor":"#444","grid":false,"tickSize":2,"tickColor":"#bbb","domainColor":"#bbb","labelPadding":1}},
    "y":{"field":"p","type":"nominal","sort":null,"scale":{"paddingInner":0.5,"paddingOuter":0.58,"align":0.845},"axis":{"title":null,"labelFont":"DejaVu Serif","labelFontWeight":"bold","labelFontSize":6.1,"labelColor":"#333","labelLimit":200,"ticks":false,"domainColor":"#bbb","labelPadding":3}}}}
 ],"spacing":0,"bounds":"flush"}
],"spacing":0,"bounds":"flush"},
{"vconcat":[
 {"width":1,"height":559.3,"data":{"values":[]},"mark":"rect","encoding":{}},
 {"hconcat":[
  {"width":50,"height":1,"title":{"text":"E","anchor":"start","fontSize":12,"fontWeight":"bold","offset":0,"dx":2,"dy":4.5,"baseline":"middle","color":"black"},"data":{"values":[]},"mark":"rect","encoding":{}},
  {"width":240,"height":261,"view":{"stroke":"#888","strokeWidth":1},
   "layer":[
    {"data":{"name":"down"},"mark":{"type":"circle","size":25,"opacity":1},"encoding":{
      "x":{"field":"a","type":"quantitative","scale":{"domain":[-77,1571],"nice":false,"zero":false},"axis":{"title":"Average E−scores","titleFontSize":8,"titleFontWeight":"bold","titleColor":"#222","values":[0,500,1000,1500],"labelFontSize":6.5,"labelColor":"#333","grid":false,"tickSize":2,"tickColor":"#555","domain":false,"titlePadding":-1,"labelPadding":1}},
      "y":{"field":"e","type":"quantitative","scale":{"domain":[-20.8,20],"nice":false},"axis":{"title":"E−scores log−ration","titleFontSize":8,"titleFontWeight":"bold","titleColor":"#222","values":[-20,-10,0,10,20],"labelFontSize":6.5,"labelColor":"#333","grid":false,"tickSize":3,"tickColor":"#555","domain":false,"titlePadding":2}},
      "color":{"datum":"Down","scale":{"domain":["Down","Unchanged","Up"],"range":["#80ff26","#000000","#c81b1e"]},"legend":{"title":"Status","orient":"none","legendX":300,"legendY":671,"titleFontSize":6,"titleFontWeight":"normal","titleColor":"#333","labelFontSize":5.2,"labelFontWeight":"bold","labelColor":"#333","symbolSize":20,"symbolType":"circle","rowPadding":3}}}},
    {"data":{"name":"up"},"mark":{"type":"circle","size":25,"opacity":1},"encoding":{"x":{"field":"a","type":"quantitative"},"y":{"field":"e","type":"quantitative"},"color":{"datum":"Up"}}},
    {"data":{"name":"flat"},"mark":{"type":"circle","size":25,"opacity":1},"encoding":{"x":{"field":"a","type":"quantitative"},"y":{"field":"e","type":"quantitative"},"color":{"datum":"Unchanged"}}},
    {"data":{"values":[{"cut":1},{"cut":-1}]},"mark":{"type":"rule","color":"black","strokeDash":[1.2,3],"strokeWidth":1},"encoding":{"y":{"field":"cut","type":"quantitative"}}},
    {"data":{"values":[{"cut":7}]},"mark":{"type":"rule","color":"black","strokeDash":[1.2,3],"strokeWidth":1},"encoding":{"x":{"field":"cut","type":"quantitative"}}}
   ]}
 ],"spacing":0,"bounds":"flush"}
],"spacing":0,"bounds":"flush"},
{"vconcat":[
 {"width":1,"height":10,"data":{"values":[]},"mark":"rect","encoding":{}},
 {"hconcat":[
  {"width":473,"height":1,"title":{"text":"B","anchor":"start","fontSize":12,"fontWeight":"bold","offset":0,"dx":438,"dy":11.5,"baseline":"middle","color":"black"},"data":{"values":[]},"mark":"rect","encoding":{}},
  {"width":234,"height":212,"view":{"fill":"#e5e5e5"},
   "title":{"text":"Distribution on mRNA","anchor":"start","frame":"group","fontSize":6.5,"fontWeight":"normal","offset":2.5,"color":"#333"},
   "layer":[
    {"data":{"values":[{"minor":-0.25},{"minor":0.25},{"minor":0.75},{"minor":1.25},{"minor":1.75}]},"mark":{"type":"rule","color":"white","strokeWidth":0.5},"encoding":{"y":{"field":"minor","type":"quantitative","axis":{"title":"Frequency"}}}},
    {"data":{"values":[{"pos":0,"freq":0.12,"Feature":"scc25IPVSscc25Input"},{"pos":1.6,"freq":0.245,"Feature":"scc25IPVSscc25Input"},{"pos":3.9,"freq":0.37,"Feature":"scc25IPVSscc25Input"},{"pos":7.1,"freq":0.53,"Feature":"scc25IPVSscc25Input"},{"pos":11.3,"freq":0.73,"Feature":"scc25IPVSscc25Input"},{"pos":14.1,"freq":0.86,"Feature":"scc25IPVSscc25Input"},{"pos":17.2,"freq":0.955,"Feature":"scc25IPVSscc25Input"},{"pos":21.2,"freq":1.055,"Feature":"scc25IPVSscc25Input"},{"pos":25.1,"freq":1.115,"Feature":"scc25IPVSscc25Input"},{"pos":28.2,"freq":1.115,"Feature":"scc25IPVSscc25Input"},{"pos":30.6,"freq":1.1,"Feature":"scc25IPVSscc25Input"},{"pos":33.7,"freq":1.14,"Feature":"scc25IPVSscc25Input"},{"pos":37.6,"freq":1.17,"Feature":"scc25IPVSscc25Input"},{"pos":41.5,"freq":1.21,"Feature":"scc25IPVSscc25Input"},{"pos":45.5,"freq":1.27,"Feature":"scc25IPVSscc25Input"},{"pos":48.6,"freq":1.34,"Feature":"scc25IPVSscc25Input"},{"pos":51.7,"freq":1.42,"Feature":"scc25IPVSscc25Input"},{"pos":54.9,"freq":1.56,"Feature":"scc25IPVSscc25Input"},{"pos":58,"freq":1.795,"Feature":"scc25IPVSscc25Input"},{"pos":60.3,"freq":1.885,"Feature":"scc25IPVSscc25Input"},{"pos":61.4,"freq":1.895,"Feature":"scc25IPVSscc25Input"},{"pos":63.5,"freq":1.795,"Feature":"scc25IPVSscc25Input"},{"pos":65.8,"freq":1.56,"Feature":"scc25IPVSscc25Input"},{"pos":69,"freq":1.29,"Feature":"scc25IPVSscc25Input"},{"pos":72.1,"freq":1.09,"Feature":"scc25IPVSscc25Input"},{"pos":75.2,"freq":0.95,"Feature":"scc25IPVSscc25Input"},{"pos":78.4,"freq":0.83,"Feature":"scc25IPVSscc25Input"},{"pos":82.3,"freq":0.725,"Feature":"scc25IPVSscc25Input"},{"pos":86.2,"freq":0.63,"Feature":"scc25IPVSscc25Input"},{"pos":90.1,"freq":0.535,"Feature":"scc25IPVSscc25Input"},{"pos":94,"freq":0.41,"Feature":"scc25IPVSscc25Input"},{"pos":97.2,"freq":0.255,"Feature":"scc25IPVSscc25Input"},{"pos":100,"freq":0.1,"Feature":"scc25IPVSscc25Input"}]},
     "mark":{"type":"area","interpolate":"monotone","stroke":"#dd918b","strokeWidth":0.8,"line":false,"opacity":1},
     "encoding":{
      "x":{"field":"pos","type":"quantitative","scale":{"domain":[-4.86,105],"nice":false,"zero":false},"axis":{"title":null,"labels":false,"ticks":false,"domain":false,"grid":true,"gridColor":"white","gridWidth":0.8,"values":[0,12.5,25,37.5,50,62.5,75,87.5,100]}},
      "y":{"field":"freq","type":"quantitative","stack":null,"scale":{"domain":[-0.307,1.99],"nice":false,"zero":false},"axis":{"title":"Frequency","titleFontSize":6,"titleFontWeight":"normal","titleColor":"#333","titlePadding":3,"values":[0,0.5,1,1.5],"format":".1f","labelFontSize":4.5,"labelColor":"#555","ticks":false,"domain":false,"grid":true,"gridColor":"white","gridWidth":0.8,"labelPadding":3}},
      "color":{"field":"Feature","type":"nominal","scale":{"range":["#dfcbc6"]},"legend":{"title":"factor(Feature)","titleOrient":"left","orient":"none","legendX":541,"legendY":238,"direction":"horizontal","titleFontSize":5,"titleFontWeight":"normal","titleColor":"#333","labelFontSize":4.5,"labelColor":"#333","symbolType":"square","symbolSize":70,"symbolStrokeColor":"#dd918b","symbolStrokeWidth":1,"symbolOpacity":1,"labelLimit":120,"titlePadding":3}}}},
    {"data":{"values":[{"part":"transcript","from":0,"to":100}]},"mark":{"type":"rect","color":"#444"},"encoding":{"x":{"field":"from","type":"quantitative"},"x2":{"field":"to"},"y":{"datum":-0.085},"y2":{"datum":-0.115}}},
    {"data":{"values":[{"part":"CDS","from":11.3,"to":61.4}]},"mark":{"type":"rect","color":"#bdbdbd","stroke":"#5a5a5a","strokeWidth":0.9},"encoding":{"x":{"field":"from","type":"quantitative"},"x2":{"field":"to"},"y":{"datum":-0.036},"y2":{"datum":-0.159}}},
    {"data":{"values":[{"edge":11.3},{"edge":61.4}]},"mark":{"type":"rule","color":"#333","strokeDash":[1,1],"strokeWidth":0.6},"encoding":{"x":{"field":"edge","type":"quantitative"}}},
    {"data":{"values":[{"part":"5'UTR","at":5.5},{"part":"CDS","at":36.4},{"part":"3'UTR","at":80.5}]},"mark":{"type":"text","fontSize":4.8,"color":"#333"},"encoding":{"x":{"field":"at","type":"quantitative"},"y":{"datum":-0.2},"text":{"field":"part"}}}
   ]}
 ],"spacing":0,"bounds":"flush"}
],"spacing":0,"bounds":"flush"},
{"vconcat":[
 {"width":1,"height":295.3,"data":{"values":[]},"mark":"rect","encoding":{}},
 {"hconcat":[
  {"width":489,"height":1,"title":{"text":"D","anchor":"start","fontSize":12,"fontWeight":"bold","offset":0,"dx":297,"dy":-6.5,"baseline":"middle","color":"black"},"data":{"values":[]},"mark":"rect","encoding":{}},
  {"width":195.7,"height":208.4,"view":{"stroke":"#777","strokeWidth":1},
   "title":{"text":"Top 20 of GO enrichment","fontSize":7.3,"fontWeight":"normal","offset":5,"color":"#222"},
   "data":{"values":[{"t":"regulation of transcription, DNA−templated","r":0.313,"p":52,"n":650},{"t":"transcription, DNA−templated","r":0.316,"p":48,"n":640},{"t":"negative regulation of transcription from RNA polymerase II promoter","r":0.306,"p":16,"n":350},{"t":"positive regulation of transcription, DNA−templated","r":0.316,"p":15,"n":300},{"t":"negative regulation of transcription, DNA−templated","r":0.32,"p":14,"n":280},{"t":"transcription from RNA polymerase II promoter","r":0.3,"p":13,"n":340},{"t":"positive regulation of transcription from RNA polymerase II promoter","r":0.272,"p":13,"n":430},{"t":"regulation of transcription from RNA polymerase II promoter","r":0.304,"p":12,"n":330},{"t":"in utero embryonic development","r":0.328,"p":6,"n":200},{"t":"chromatin modification","r":0.323,"p":6,"n":210},{"t":"glycosaminoglycan metabolic process","r":0.393,"p":5,"n":70},{"t":"protein glycosylation","r":0.359,"p":5,"n":110},{"t":"cellular response to DNA damage stimulus","r":0.284,"p":5,"n":220},{"t":"protein ubiquitination","r":0.278,"p":4,"n":250},{"t":"cell cycle","r":0.265,"p":4,"n":320},{"t":"chondroitin sulfate metabolic process","r":0.47,"p":4,"n":30},{"t":"skeletal system development","r":0.337,"p":4,"n":100},{"t":"positive regulation of I−kappaB kinase/NF−kappaB signaling","r":0.334,"p":4,"n":90},{"t":"liver development","r":0.363,"p":4,"n":70},{"t":"positive regulation of mammary gland epithelial cell proliferation","r":1.0,"p":3,"n":5}]},
   "mark":{"type":"circle","opacity":1},
   "encoding":{
    "x":{"field":"r","type":"quantitative","scale":{"domain":[0.229,1.037],"nice":false,"zero":false},"axis":{"title":"Rich factor","titleFontSize":6.5,"titleFontWeight":"normal","titleColor":"#222","titlePadding":3,"values":[0.4,0.6,0.8,1.0],"format":".1f","labelFontSize":5.5,"labelColor":"#555","grid":true,"gridColor":"#ececec","tickSize":2,"tickColor":"#666","domain":false}},
    "y":{"field":"t","type":"nominal","sort":null,"scale":{"type":"point","padding":0.57},"axis":{"title":null,"labelFontSize":6.1,"labelColor":"#555","labelLimit":300,"grid":true,"gridColor":"#ececec","tickSize":2,"tickColor":"#666","domain":false,"labelPadding":1}},
    "color":{"field":"p","type":"quantitative","scale":{"domain":[3,53],"range":["#7fff26","#d7191c"]},"legend":{"title":"−log₁₀(P − Value)","orient":"none","legendX":694,"legendY":352,"gradientLength":40,"gradientThickness":8,"titleFontSize":7.8,"titleFontWeight":"normal","titleColor":"#222","labelFontSize":4.5,"labelColor":"#333","values":[10,20,30,40,50],"titlePadding":2}},
    "size":{"field":"n","type":"quantitative","scale":{"domain":[0,700],"range":[3,46]},"legend":{"title":"Gene number","orient":"none","legendX":694,"legendY":416,"values":[200,400,600],"titleFontSize":7.3,"titleFontWeight":"normal","titleColor":"#222","labelFontSize":4.5,"labelColor":"#333","symbolFillColor":"black","symbolStrokeColor":"black","titlePadding":2,"rowPadding":1,"clipHeight":7}}}}
 ],"spacing":0,"bounds":"flush"}
],"spacing":0,"bounds":"flush"},
{"vconcat":[
 {"width":1,"height":585,"data":{"values":[]},"mark":"rect","encoding":{}},
 {"hconcat":[
  {"width":406,"height":1,"title":{"text":"F","anchor":"start","fontSize":12,"fontWeight":"bold","offset":0,"dx":366,"dy":-16.5,"baseline":"middle","color":"black"},"data":{"values":[]},"mark":"rect","encoding":{}},
  {"vconcat":[
   {"width":349,"height":47.7,"view":{"fill":"#f7f7f7"},
    "layer":[
     {"data":{"name":"inputTrack"},"mark":{"type":"area","color":"#180a8e","clip":true},
      "encoding":{"x":{"field":"pos","type":"quantitative","scale":{"domain":[168,1215],"nice":false,"zero":false},"axis":null},"y":{"field":"cov","type":"quantitative","scale":{"domain":[0,143],"nice":false},"axis":{"title":"Input","titleAngle":0,"titleX":-18,"titleY":38,"titleFontSize":10,"titleFontWeight":"bold","titleFont":"Open Sans","titleColor":"#222","labels":false,"ticks":false,"domain":false,"grid":false}}}},
     {"data":{"values":[{"line":"baseline"}]},"mark":{"type":"rule","color":"#a8a8cc","strokeWidth":1},"encoding":{"y":{"datum":0}}}
    ]},
   {"width":349,"height":53,"view":{"fill":"#f7f7f7"},
    "layer":[
     {"data":{"name":"ipTrack"},"mark":{"type":"area","color":"#c8182f","clip":true},
      "encoding":{"x":{"field":"pos","type":"quantitative","scale":{"domain":[168,1215],"nice":false,"zero":false},"axis":null},"y":{"field":"cov","type":"quantitative","scale":{"domain":[0,159],"nice":false},"axis":{"title":"IP","titleAngle":0,"titleX":-21,"titleY":43,"titleFontSize":10,"titleFontWeight":"bold","titleFont":"Open Sans","titleColor":"#222","labels":false,"ticks":false,"domain":false,"grid":false}}}},
     {"data":{"values":[{"line":"baseline"}]},"mark":{"type":"rule","color":"#c4c4dc","strokeWidth":1},"encoding":{"y":{"datum":0}}}
    ]},
   {"width":349,"height":53,"view":{"fill":"#f7f7f7"},
    "layer":[
     {"data":{"name":"ipTrack"},"mark":{"type":"area","color":"#c8182f","clip":true},"encoding":{"x":{"field":"pos","type":"quantitative","scale":{"domain":[168,1215],"nice":false,"zero":false},"axis":null},"y":{"field":"cov","type":"quantitative","scale":{"domain":[0,159],"nice":false},"axis":{"title":"Merged","titleAngle":0,"titleX":-25,"titleY":46,"titleFontSize":10,"titleFontWeight":"bold","titleFont":"Open Sans","titleColor":"#222","labels":false,"ticks":false,"domain":false,"grid":false}}}},
     {"data":{"name":"inputTrack"},"mark":{"type":"area","color":"#180a8e","clip":true},"encoding":{"x":{"field":"pos","type":"quantitative"},"y":{"field":"cov","type":"quantitative"}}},
     {"data":{"values":[{"line":"baseline"}]},"mark":{"type":"rule","color":"#c4c4dc","strokeWidth":1},"encoding":{"y":{"datum":0}}}
    ]},
   {"width":349,"height":64.7,"view":{"fill":"#f7f7f7"},
    "layer":[
     {"data":{"values":[{"line":718}]},"mark":{"type":"rule","color":"#bdbdbd","strokeWidth":1},"encoding":{"y":{"field":"line","type":"quantitative","scale":{"domain":[792,598],"nice":false,"zero":false},"axis":{"title":"c-Myc","titleAngle":0,"titleX":-24,"titleY":53,"titleFontSize":10,"titleFontWeight":"bold","titleFont":"Open Sans","titleColor":"#222","labels":false,"ticks":false,"domain":false,"grid":false}}}},
     {"data":{"values":[{"line":726}]},"mark":{"type":"rule","color":"#555","strokeWidth":0.8},"encoding":{"y":{"field":"line","type":"quantitative"}}},
     {"data":{"values":[{"line":792}]},"mark":{"type":"rule","color":"#cfcfcf","strokeWidth":1},"encoding":{"y":{"field":"line","type":"quantitative"}}},
     {"data":{"values":[{"site":"m6A","from":956,"to":1031}]},"mark":{"type":"rect","color":"#80ff26"},"encoding":{"x":{"field":"from","type":"quantitative","scale":{"domain":[168,1215],"nice":false,"zero":false},"axis":null},"x2":{"field":"to"},"y":{"datum":609},"y2":{"datum":626}}},
     {"data":{"values":[{"label":"m⁶A sites","at":1005}]},"mark":{"type":"text","fontSize":8,"fontWeight":"bold","font":"Open Sans","color":"#222"},"encoding":{"x":{"field":"at","type":"quantitative"},"y":{"datum":661},"text":{"field":"label"}}},
     {"data":{"values":[{"part":"intron","from":437,"to":1055}]},"mark":{"type":"rect","color":"#180a8e"},"encoding":{"x":{"field":"from","type":"quantitative"},"x2":{"field":"to"},"y":{"datum":744},"y2":{"datum":746}}},
     {"data":{"values":[{"part":"UTR","from":368,"to":437},{"part":"UTR","from":993,"to":1055}]},"mark":{"type":"rect","color":"#180a8e"},"encoding":{"x":{"field":"from","type":"quantitative"},"x2":{"field":"to"},"y":{"datum":739},"y2":{"datum":752}}},
     {"data":{"values":[{"part":"exon","from":433,"to":440},{"part":"exon","from":647,"to":745},{"part":"exon","from":921,"to":993}]},"mark":{"type":"rect","color":"#180a8e"},"encoding":{"x":{"field":"from","type":"quantitative"},"x2":{"field":"to"},"y":{"datum":733},"y2":{"datum":758}}},
     {"data":{"values":[{"mark":460},{"mark":510},{"mark":558},{"mark":606},{"mark":768},{"mark":816},{"mark":864},{"mark":915}]},"mark":{"type":"rect","color":"#180a8e","width":1},"encoding":{"x":{"field":"mark","type":"quantitative"},"y":{"datum":742},"y2":{"datum":748}}},
     {"data":{"values":[{"label":"MYC","at":710}]},"mark":{"type":"text","fontSize":4.5,"color":"#444"},"encoding":{"x":{"field":"at","type":"quantitative"},"y":{"datum":781},"text":{"field":"label"}}}
    ]}
  ],"spacing":0,"bounds":"flush"}
 ],"spacing":0,"bounds":"flush"}
],"spacing":0,"bounds":"flush"}
]}
